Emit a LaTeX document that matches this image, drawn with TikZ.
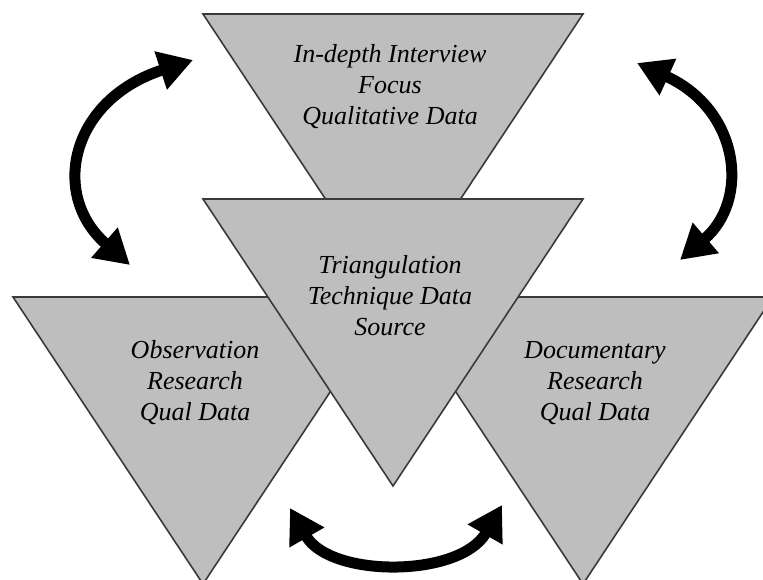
\documentclass[tikz,border=0pt]{standalone}
\usepackage{fontspec}
\setmainfont{Liberation Serif}
\usetikzlibrary{arrows.meta}
\definecolor{trifill}{HTML}{BEBEBE}
\definecolor{triedge}{HTML}{3A3A3A}
\tikzset{
  tri/.style={fill=trifill, draw=triedge, line width=1.6pt, line join=miter},
  label/.style={anchor=base, inner sep=0pt,
    font=\fontsize{26}{31}\selectfont\itshape},
  swap/.style={draw=black, line width=11pt,
    {Triangle[length=34pt,width=38pt]}-{Triangle[length=34pt,width=38pt]}},
}
\newcommand{\lines}[1]{\begin{tabular}[t]{@{}c@{}}#1\end{tabular}}
\begin{document}
\begin{tikzpicture}[x=1pt, y=-1pt]
  \useasboundingbox (0,0) rectangle (763,580);
  \clip (0,0) rectangle (763,580);
  \fill[white] (0,0) rectangle (763,580);

  % four inverted triangles, the central one drawn last
  \draw[tri] (203,14) -- (583,14) -- (393,301) -- cycle;
  \draw[tri] (13,297) -- (393,297) -- (203,584) -- cycle;
  \draw[tri] (393,297) -- (773,297) -- (583,584) -- cycle;
  \draw[tri] (203,199) -- (583,199) -- (393,486) -- cycle;

  % labels
  \node[label] (top)    at (390,63)  {\lines{In-depth Interview\\Focus\\Qualitative Data}};
  \node[label] (centre) at (390,273) {\lines{Triangulation\\Technique Data\\Source}};
  \node[label] (obs)    at (195,358) {\lines{Observation\\Research\\Qual Data}};
  \node[label] (doc)    at (595,358) {\lines{Documentary\\Research\\Qual Data}};

  % ends of the curved two-way arrows
  \coordinate (la) at (130,265);
  \coordinate (lb) at (193,60);
  \coordinate (ra) at (680,260);
  \coordinate (rb) at (637,63);
  \coordinate (ba) at (290,508);
  \coordinate (bb) at (502,505);

  \draw[swap] (la) .. controls (50,195) and (70,100) .. (lb);
  \draw[swap] (ra) .. controls (750,200) and (740,110) .. (rb);
  \draw[swap] (ba) .. controls (330,578) and (460,578) .. (bb);
\end{tikzpicture}
\end{document}
